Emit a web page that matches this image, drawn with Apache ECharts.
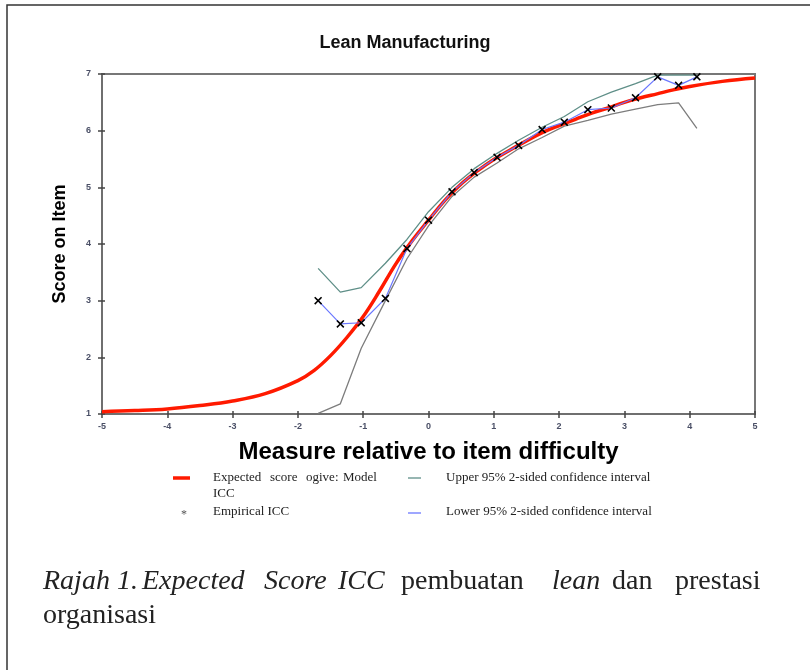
<!DOCTYPE html>
<html>
<head>
<meta charset="utf-8">
<script src="https://cdn.jsdelivr.net/npm/echarts@6/dist/echarts.min.js"></script>
<style>html,body{margin:0;padding:0;background:#fff;}#c{width:810px;height:670px;}</style>
</head>
<body>
<div id="c"></div>
<script>
// Model ICC (expected score ogive)
const modelX = [-5,-4.5,-4,-3.5,-3,-2.5,-2,-1.75,-1.5,-1.25,-1,-0.75,-0.5,-0.25,0,0.25,0.5,0.75,1,1.25,1.5,1.75,2,2.25,2.5,2.75,3,3.25,3.5,3.75,4,4.5,5];
const modelY = [1.04,1.06,1.09,1.15,1.23,1.36,1.59,1.77,2.03,2.35,2.72,3.17,3.65,4.06,4.42,4.77,5.06,5.29,5.49,5.66,5.82,5.97,6.09,6.20,6.31,6.40,6.50,6.58,6.65,6.72,6.78,6.87,6.93];
// Empirical ICC
const empX = [-1.69,-1.35,-1.03,-0.66,-0.33,0,0.36,0.70,1.05,1.38,1.74,2.08,2.44,2.80,3.17,3.51,3.83,4.11];
const empY = [3.00,2.59,2.61,3.04,3.92,4.42,4.92,5.26,5.53,5.74,6.02,6.15,6.37,6.40,6.58,6.95,6.80,6.95];
// Confidence bands
const upperY = [3.57,3.15,3.23,3.66,4.08,4.57,5.00,5.33,5.60,5.83,6.06,6.25,6.51,6.68,6.83,6.98,6.98,6.98];
const lowerY = [1.01,1.18,2.16,3.00,3.74,4.32,4.84,5.18,5.43,5.68,5.88,6.08,6.18,6.29,6.38,6.46,6.49,6.04];

const title = 'Lean Manufacturing';
const xName = 'Measure relative to item difficulty';
const yName = 'Score on Item';

const zip = (a, b) => a.map((v, i) => [v, b[i]]);
const xMark = 'path://M0,1.4L1.4,0L5,3.6L8.6,0L10,1.4L6.4,5L10,8.6L8.6,10L5,6.4L1.4,10L0,8.6L3.6,5Z';

const chart = echarts.init(document.getElementById('c'), null, {renderer: 'canvas'});
const tickLbl = {fontSize: 9, fontWeight: 'bold', color: '#4a4f66', fontFamily: 'Liberation Sans'};

const serif = 'Liberation Serif';
const capWords = [
  ['Rajah', 43, true], ['1.', 117, true], ['Expected', 142, true], ['Score', 264, true],
  ['ICC', 338, true], ['pembuatan', 401, false], ['lean', 552, true], ['dan', 612, false], ['prestasi', 675, false]
];
const lg = (t, x, y) => ({type: 'text', x: x, y: y, style: {text: t, font: '13px ' + serif, fill: '#222', verticalAlign: 'middle'}});
const graphics = [
  {type: 'rect', shape: {x: 7, y: 5, width: 830, height: 700}, style: {fill: 'none', stroke: '#333', lineWidth: 1.5}, silent: true},
  // legend
  {type: 'line', shape: {x1: 173, y1: 478, x2: 190, y2: 478}, style: {stroke: '#ff1a00', lineWidth: 3.5}},
  lg('Expected', 213, 478), lg('score', 270, 478), lg('ogive:', 306, 478), lg('Model', 343, 478),
  lg('ICC', 213, 494),
  {type: 'text', x: 184, y: 515, style: {text: '*', font: '12px ' + serif, fill: '#555', align: 'center', verticalAlign: 'middle'}},
  lg('Empirical ICC', 213, 512),
  {type: 'line', shape: {x1: 408, y1: 478, x2: 421, y2: 478}, style: {stroke: '#5f8f88', lineWidth: 1.3}},
  lg('Upper 95% 2-sided confidence interval', 446, 478),
  {type: 'line', shape: {x1: 408, y1: 513, x2: 421, y2: 513}, style: {stroke: '#6b78ff', lineWidth: 1.3}},
  lg('Lower 95% 2-sided confidence interval', 446, 512),
  {type: 'text', x: 43, y: 616, style: {text: 'organisasi', font: '28px ' + serif, fill: '#222', verticalAlign: 'middle'}}
];
capWords.forEach(w => graphics.push({type: 'text', x: w[1], y: 582, style: {text: w[0], font: (w[2] ? 'italic ' : '') + '28px ' + serif, fill: '#222', verticalAlign: 'middle'}}));

const extraAxis = {axisLine: {show: false, onZero: false}, axisTick: {show: true, inside: true, length: 3, lineStyle: {color: '#444', width: 1.5}},
  axisLabel: {show: false}, splitLine: {show: false}};

chart.setOption({
  animation: false,
  backgroundColor: '#fff',
  title: {text: title, left: 400, top: 29, textAlign: 'center',
    textStyle: {fontSize: 18, fontWeight: 'bold', color: '#111', fontFamily: 'Liberation Sans'}},
  grid: {left: 102, right: 55, top: 74, bottom: 256, show: true, borderColor: '#777', borderWidth: 2, backgroundColor: 'transparent'},
  xAxis: [
    {type: 'value', min: -5, max: 5, interval: 1, position: 'bottom',
     name: xName, nameLocation: 'middle', nameGap: 26,
     nameTextStyle: {fontSize: 24, fontWeight: 'bold', color: '#000', fontFamily: 'Liberation Sans'},
     axisLine: {show: true, onZero: false, lineStyle: {color: '#6f6f6f', width: 2}},
     axisTick: {show: true, length: 4, lineStyle: {color: '#444', width: 1.5}},
     axisLabel: Object.assign({margin: 8}, tickLbl), splitLine: {show: false}},
    Object.assign({type: 'value', min: -5, max: 5, interval: 1, position: 'bottom'}, extraAxis)
  ],
  yAxis: [
    {type: 'value', min: 1, max: 7, interval: 1, position: 'left',
     name: yName, nameLocation: 'middle', nameGap: 33, nameRotate: 90,
     nameTextStyle: {fontSize: 18, fontWeight: 'bold', color: '#000', fontFamily: 'Liberation Sans'},
     axisLine: {show: true, onZero: false, lineStyle: {color: '#6f6f6f', width: 2}},
     axisTick: {show: true, length: 4, lineStyle: {color: '#444', width: 1.5}},
     axisLabel: Object.assign({margin: 11}, tickLbl), splitLine: {show: false}},
    Object.assign({type: 'value', min: 1, max: 7, interval: 1, position: 'left'}, extraAxis)
  ],
  series: [
    {type: 'line', name: 'upper', data: zip(empX, upperY), symbol: 'none', lineStyle: {color: '#5f8f88', width: 1.3}, z: 2},
    {type: 'line', name: 'lower', data: zip(empX, lowerY), symbol: 'none', lineStyle: {color: '#7d7d7d', width: 1.3}, z: 2},
    {type: 'line', name: 'model', data: zip(modelX, modelY), symbol: 'none', smooth: 0.4, lineStyle: {color: '#ff1a00', width: 3.5}, z: 3},
    {type: 'line', name: 'empirical', data: zip(empX, empY), symbol: xMark, symbolSize: 8, showSymbol: true,
     lineStyle: {color: '#6b78ff', width: 1.2}, itemStyle: {color: '#000'}, z: 4}
  ],
  graphic: graphics
});
</script>
</body>
</html>
